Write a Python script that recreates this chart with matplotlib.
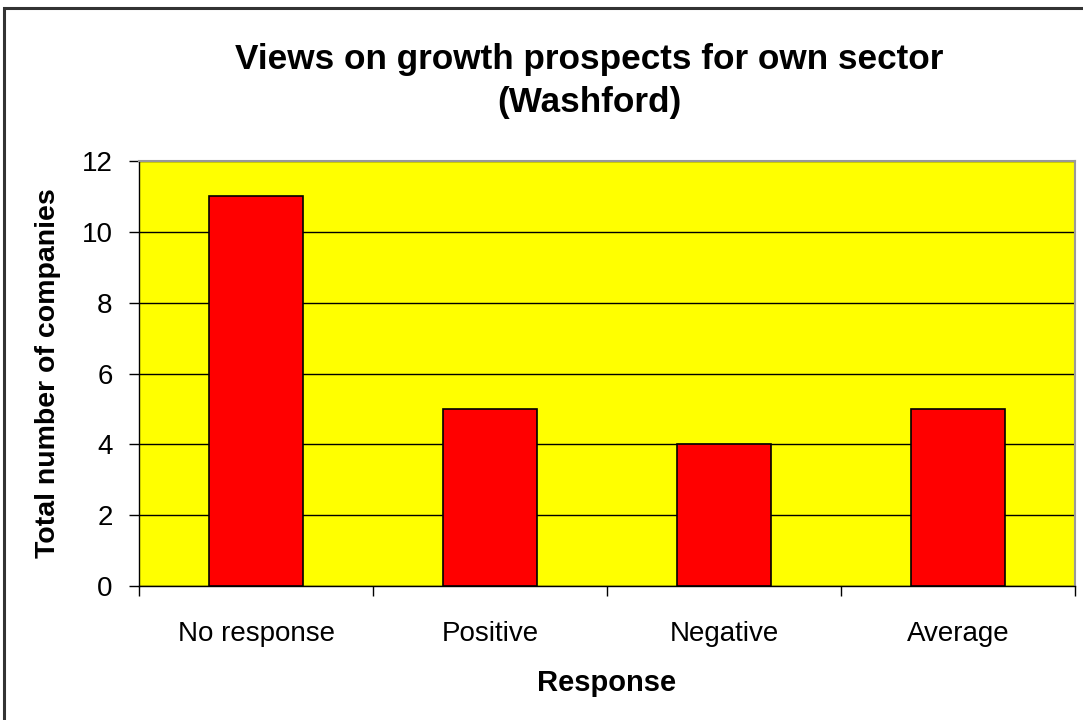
import matplotlib
matplotlib.use("Agg")
import matplotlib.pyplot as plt
from matplotlib.patches import Rectangle

categories = ["No response", "Positive", "Negative", "Average"]
values = [11, 5, 4, 5]
yticks = [0, 2, 4, 6, 8, 10, 12]

plt.rcParams['font.family'] = ['Liberation Sans', 'DejaVu Sans']

W, H = 1083, 720
fig = plt.figure(figsize=(W / 100, H / 100), dpi=100)
fig.patch.set_facecolor('white')

# outer border
fig.add_artist(Rectangle((3.5 / W, -0.01), 1.02, 1 - 7.5 / H + 0.01, transform=fig.transFigure,
                         fill=False, edgecolor='#333333', linewidth=2.2))

left, right, top, bottom = 139, 1075, 161, 586
ax = fig.add_axes([left / W, 1 - bottom / H, (right - left) / W, (bottom - top) / H])
ax.set_facecolor('#FFFF00')

x = list(range(len(categories)))
ax.bar(x, values, width=0.4, color='#FF0000', edgecolor='black', linewidth=1.2, zorder=3)

ax.set_xlim(-0.5, len(categories) - 0.5)
ax.set_ylim(0, 12)
ax.set_yticks(yticks)
ax.set_yticklabels([str(t) for t in yticks], fontsize=20)
ax.yaxis.grid(True, color='black', linewidth=1.0, zorder=1)
ax.set_axisbelow(True)

ax.set_xticks([i - 0.5 for i in range(len(categories) + 1)])
ax.set_xticklabels([])
ax.set_xticks(x, minor=True)
ax.set_xticklabels(categories, minor=True, fontsize=20)
ax.tick_params(axis='x', which='minor', length=0, pad=25)
ax.tick_params(axis='x', which='major', length=7, width=1, direction='out')
ax.tick_params(axis='y', length=7, width=1, direction='out', pad=12)

for s in ['top', 'right']:
    ax.spines[s].set_color('#999999')
    ax.spines[s].set_linewidth(1.5)
for s in ['left', 'bottom']:
    ax.spines[s].set_color('black')
    ax.spines[s].set_linewidth(1.0)

ax.set_xlabel('Response', fontsize=21, fontweight='bold', labelpad=16)
ax.set_ylabel('Total number of companies', fontsize=20.5, fontweight='bold', labelpad=15)

fig.text(589 / W, 1 - 81 / H, 'Views on growth prospects for own sector\n(Washford)',
         ha='center', va='center', fontsize=25.3, fontweight='bold', linespacing=1.42)

fig.savefig('out.png', dpi=100)
